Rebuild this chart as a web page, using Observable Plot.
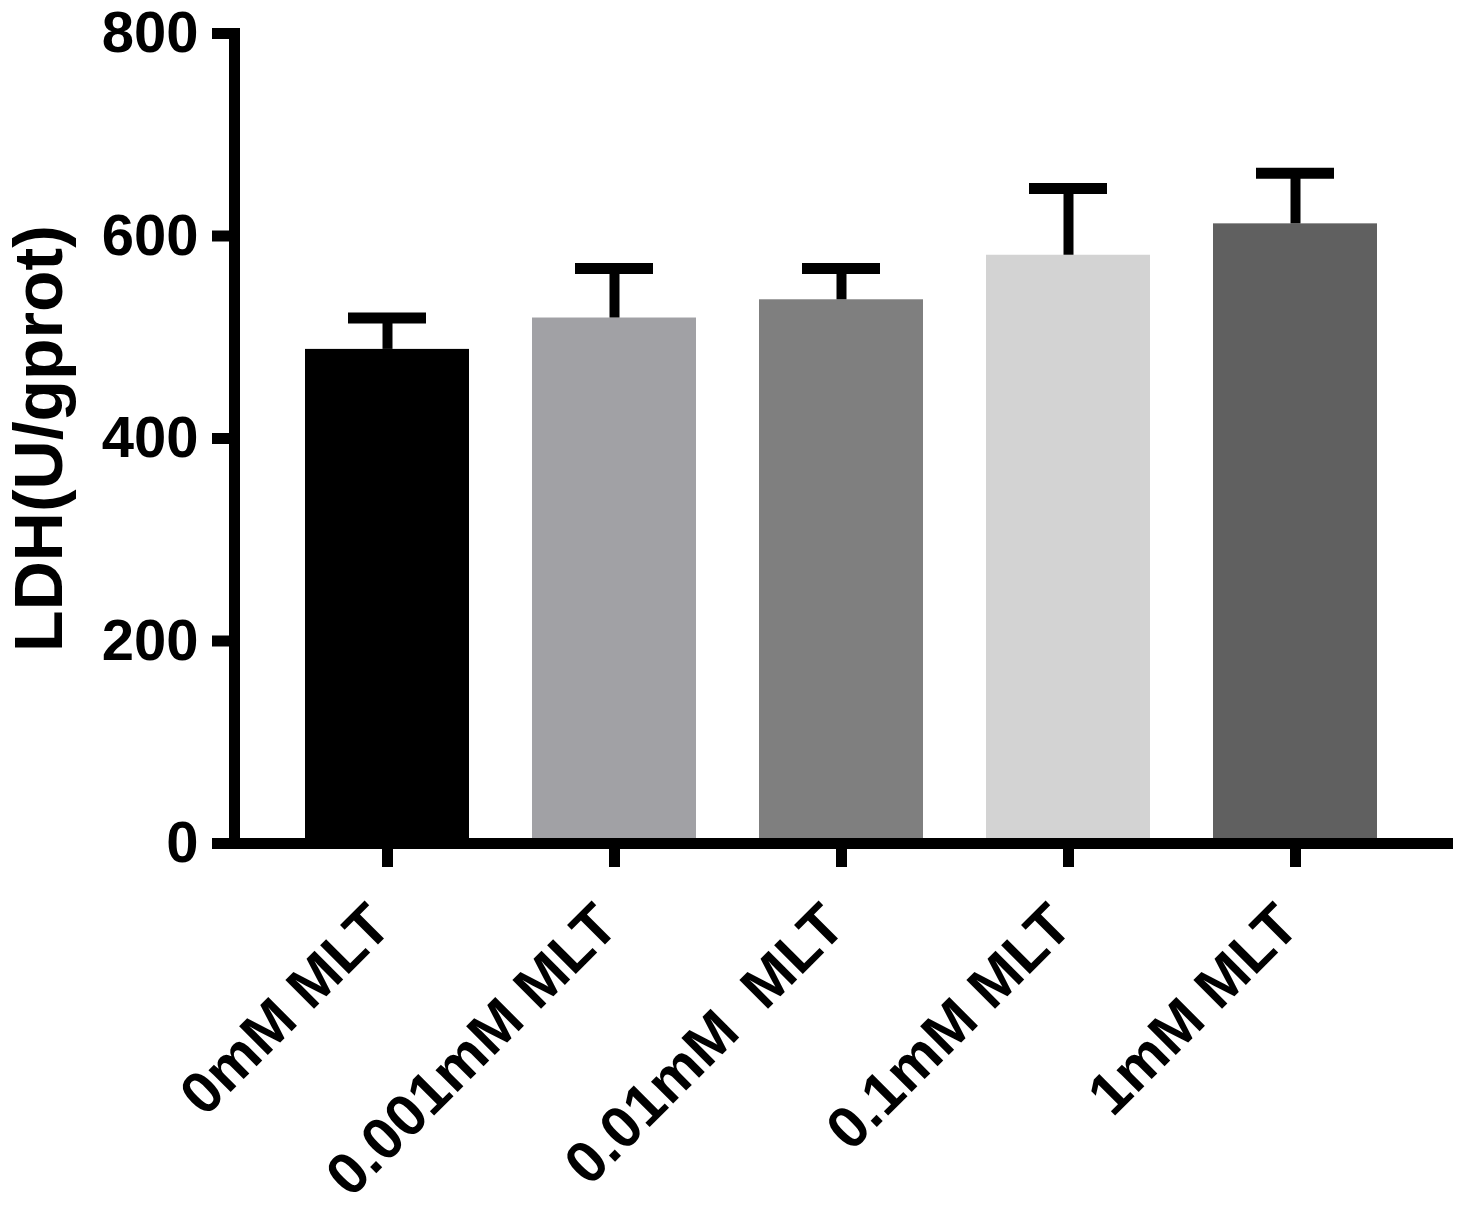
<!DOCTYPE html>
<html><head><meta charset="utf-8">
<script src="https://cdn.jsdelivr.net/npm/d3@7"></script>
<script src="https://cdn.jsdelivr.net/npm/@observablehq/plot@0.6"></script>
<style>
html,body{margin:0;padding:0;background:#fff;overflow:hidden;}
svg text{white-space:pre;}
</style></head><body><div id="chart"></div>
<script>
const groups = ["0mM MLT", "0.001mM MLT", "0.01mM  MLT", "0.1mM MLT", "1mM MLT"];
const means = [488, 519, 537, 581, 612];
const sds = [31, 49, 31, 66, 50];
const yTicks = [0, 200, 400, 600, 800];
const yLabel = "LDH(U/gprot)";
const barColors = ["#000000", "#a1a1a5", "#7f7f7f", "#d3d3d3", "#606060"];

const rows = groups.map((g, i) => ({group: g, mean: means[i], sd: sds[i], top: means[i] + sds[i]}));
const font = '"Liberation Sans", Arial, Helvetica, sans-serif';

const chart = Plot.plot({
  width: 1467, height: 1209,
  marginLeft: 234, marginRight: 20, marginTop: 33, marginBottom: 366,
  style: {fontFamily: font, fontWeight: "bold", background: "#fff", color: "#000"},
  x: {domain: groups, paddingInner: 0.278, paddingOuter: 0.308},
  y: {domain: [0, 800]},
  color: {domain: groups, range: barColors},
  marks: [
    Plot.barY(rows, {x: "group", y: "mean", fill: "group"}),
    Plot.ruleX(rows, {x: "group", y1: "mean", y2: "top", stroke: "#000", strokeWidth: 10}),
    Plot.tickY(rows, {x: "group", y: "top", stroke: "#000", strokeWidth: 11, inset: 43}),
    Plot.frame({anchor: "left", stroke: "#000", strokeWidth: 11, strokeLinecap: "square"}),
    Plot.frame({anchor: "bottom", stroke: "#000", strokeWidth: 11, strokeLinecap: "square"}),
    Plot.axisY({ticks: yTicks, tickSize: 22, tickPadding: 14, strokeWidth: 11, fontSize: 58, fontWeight: "bold", label: null}),
    Plot.axisX({tickSize: 24, strokeWidth: 11, tickFormat: () => "", label: null}),
    Plot.text(groups, {x: d => d, text: d => d, frameAnchor: "bottom", dx: -7, dy: 72, rotate: -45,
      textAnchor: "end", lineAnchor: "middle", fontSize: 59, fontWeight: "bold"}),
    Plot.text([yLabel], {text: d => d, frameAnchor: "left", dx: -194, rotate: -90,
      textAnchor: "middle", lineAnchor: "middle", fontSize: 68, fontWeight: "bold"})
  ]
});
document.getElementById("chart").appendChild(chart);
</script></body></html>
